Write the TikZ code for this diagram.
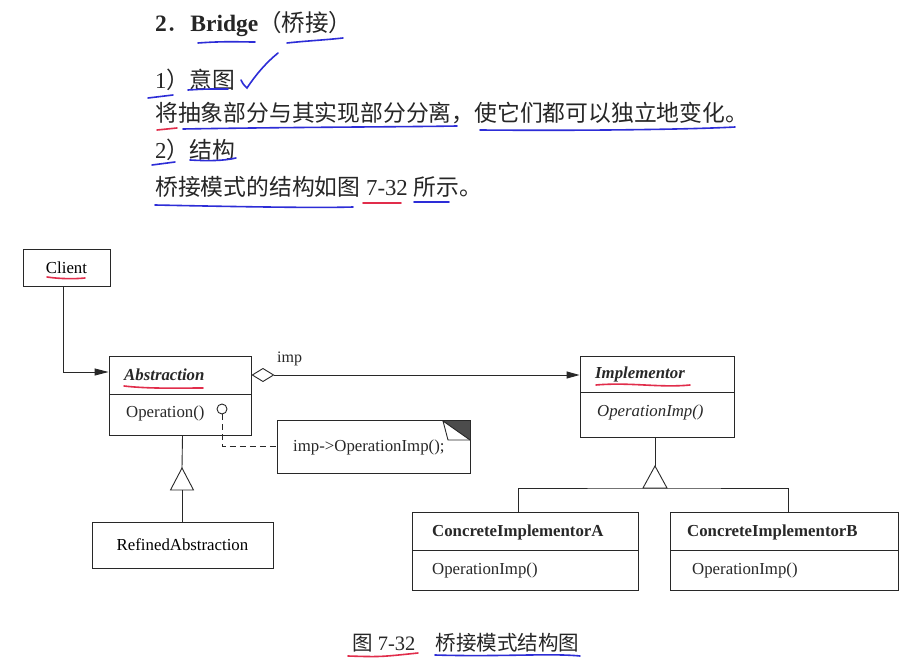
\documentclass[tikz,border=0pt]{standalone}
\usepackage{fontspec}
\setmainfont{Liberation Serif}
\newfontfamily\cjk{Noto Sans CJK SC}
\usetikzlibrary{arrows.meta}
\definecolor{hblue}{RGB}{45,45,215}
\definecolor{hred}{RGB}{225,45,75}
\definecolor{ink}{RGB}{40,40,40}
\begin{document}
\begin{tikzpicture}[x=1pt,y=-1pt,
  box/.style={draw=ink,line width=0.9pt,rectangle,inner sep=0pt,font=\fontsize{16.8}{20}\selectfont},
  lbl/.style={anchor=west,inner sep=0pt,text=ink,font=\fontsize{16.8}{20}\selectfont},
  txt/.style={anchor=base west,inner sep=0pt,text=black!85,font=\fontsize{22.8}{27}\selectfont},
  conn/.style={draw=ink,line width=0.9pt},
  penb/.style={draw=hblue,line width=1.6pt,line cap=round},
  penr/.style={draw=hred,line width=1.6pt,line cap=round}]
\fill[white] (0,0) rectangle (918,668);
\useasboundingbox (0,0) rectangle (918,668);

% ---------- heading text ----------
\node[txt,font=\fontsize{23.5}{28}\selectfont] (title) at (155,32) {\textbf{2}{\cjk ．}\textbf{Bridge}{\cjk （桥接）}};
\node[txt] (l1) at (155,89) {1{\cjk ）意图}};
\node[txt] (l2) at (155,122) {\cjk 将抽象部分与其实现部分分离，使它们都可以独立地变化。};
\node[txt] (l3) at (155,159) {2{\cjk ）结构}};
\node[txt] (l4) at (155,196) {{\cjk 桥接模式的结构如图} 7-32 {\cjk 所示。}};
\node[txt,font=\fontsize{20.5}{24}\selectfont] (cap) at (352,650) {{\cjk 图} 7-32{\cjk 　桥接模式结构图}};

% ---------- boxes ----------
\node[box,minimum width=87,minimum height=37] (client) at (66.5,267.5) {Client};

\node[box,minimum width=142,minimum height=38] (absH) at (180,375) {};
\node[box,minimum width=142,minimum height=41] (absB) at (180,414.5) {};
\node[lbl] (absT) at (124,375) {\bfseries\itshape Abstraction};
\node[lbl] (absO) at (126,413) {Operation()};
\node[circle,draw=ink,line width=0.9pt,minimum size=10,inner sep=0pt] (lol) at (222,409) {};

\node[box,minimum width=154,minimum height=36] (implH) at (657,374) {};
\node[box,minimum width=154,minimum height=45] (implB) at (657,414.5) {};
\node[lbl] (implT) at (595,374) {\bfseries\itshape Implementor};
\node[lbl] (implO) at (597,412) {\itshape OperationImp()};

\node[box,minimum width=193,minimum height=53] (note) at (373.5,446.5) {};
\node[lbl] (noteT) at (293,447) {imp->OperationImp();};
\fill[black!70] (443,421) -- (470,421) -- (470,440) -- cycle;
\draw[conn] (443,421) -- (448,440) -- (470,440);
\draw[conn] (443,421) -- (470,440);

\node[box,minimum width=181,minimum height=46] (refined) at (182.5,545) {RefinedAbstraction};

\node[box,minimum width=226,minimum height=38] (caH) at (525,531) {};
\node[box,minimum width=226,minimum height=40] (caB) at (525,570) {};
\node[lbl] (caT) at (432,532) {\bfseries ConcreteImplementorA};
\node[lbl] (caO) at (432,570) {OperationImp()};

\node[box,minimum width=228,minimum height=38] (cbH) at (784,531) {};
\node[box,minimum width=228,minimum height=40] (cbB) at (784,570) {};
\node[lbl] (cbT) at (687,532) {\bfseries ConcreteImplementorB};
\node[lbl] (cbO) at (692,570) {OperationImp()};

% ---------- connectors ----------
\draw[conn,-{Triangle[length=14pt,width=7pt]}] ([xshift=-3.5pt]client.south) |- ([yshift=3pt]absH.west);
\draw[conn,{Diamond[open,length=23pt,width=14pt]}-{Triangle[length=13pt,width=7pt]}] (absH.east) -- (absH.east -| implH.west);
\node[lbl,font=\fontsize{16}{19}\selectfont] (imp) at (277,359) {imp};
\draw[conn,dash pattern=on 6pt off 4pt] (lol.south) |- (note.west);

\coordinate (t1) at (182,468);
\coordinate (t1b) at (182,490);
\draw[conn] (refined.north |- absB.south) -- (t1);
\draw[conn] (t1) -- ++(-11.5,22) -- ++(23,0) -- cycle;
\draw[conn] (t1b) -- (t1b |- refined.north);

\coordinate (t2) at (655,466);
\coordinate (t2b) at (655,488);
\draw[conn] (t2 |- implB.south) -- (t2);
\draw[conn] (t2) -- ++(-12,22) -- ++(24,0) -- cycle;
\draw[conn] ([xshift=-7pt]caH.north) |- (t2b) -| ([xshift=4pt]cbH.north);

% ---------- handwritten marks ----------
\draw[penb] (198,43) .. controls (225,41) and (240,42) .. (255,42);
\draw[penb] (287,43) .. controls (305,41) and (325,40) .. (343,38);
\draw[penb] (241,80) .. controls (243,84) .. (247,88) .. controls (257,73) and (267,62) .. (278,53);
\draw[penb] (148,98) -- (173,95);
\draw[penb] (188,90) .. controls (205,89) .. (228,89);
\draw[penr] (157,130) -- (177,128);
\draw[penb] (183,129) .. controls (300,127) and (400,127) .. (457,126);
\draw[penb] (480,130) .. controls (600,131) and (700,129) .. (735,127);
\draw[penb] (152,165) -- (175,162);
\draw[penb] (190,160) .. controls (208,161) and (223,161) .. (236,158);
\draw[penb] (155,205) .. controls (250,207) and (320,208) .. (353,207);
\draw[penr] (363,203) -- (401,203);
\draw[penb] (414,202) -- (449,202);
\draw[penr] (47,277) .. controls (60,279) and (75,279) .. (85,278);
\draw[penr] (124,386) .. controls (150,389) and (180,388) .. (203,388);
\draw[penr] (596,385) .. controls (630,382) and (660,388) .. (690,385);
\draw[penr] (348,656) .. controls (380,657) .. (418,653);
\draw[penb] (435,655) .. controls (500,657) and (550,653) .. (580,656);
\end{tikzpicture}
\end{document}
